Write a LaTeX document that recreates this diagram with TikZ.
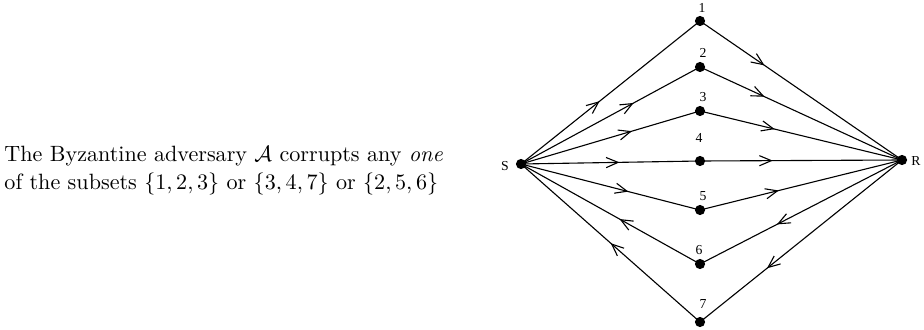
\documentclass[tikz,border=0pt]{standalone}
\usepackage{fontspec}
\newfontfamily\labelfont{Liberation Serif}
\usetikzlibrary{arrows.meta,decorations.markings}
\begin{document}
\begin{tikzpicture}[x=0.452pt,y=-0.452pt,
  dot/.style={circle,fill=black,inner sep=0pt,minimum size=4.6pt},
  tag/.style={font=\labelfont\fontsize{6.2}{7}\selectfont,inner sep=0pt},
  link/.style={line width=0.5pt},
  midarrow/.style={postaction={decorate,decoration={markings,
      mark=at position #1 with {\arrow{Straight Barb[length=5.4pt,width=4.6pt,line width=0.5pt]}}}}}]
  \useasboundingbox (0,0) rectangle (924,330);

  % caption
  \node[anchor=west,align=left,inner sep=0pt,font=\fontsize{10}{12.6}\selectfont] (cap) at (4,171)
    {The Byzantine adversary $\mathcal{A}$ corrupts any \emph{one}\\
     of the subsets $\{1,2,3\}$ or $\{3,4,7\}$ or $\{2,5,6\}$};

  % sender, receiver and the seven relay vertices
  \node[dot] (S) at (521,164) {};
  \node[dot] (R) at (902,160) {};
  \node[dot] (n1) at (700,21) {};
  \node[dot] (n2) at (700,67) {};
  \node[dot] (n3) at (700,111) {};
  \node[dot] (n4) at (700,161) {};
  \node[dot] (n5) at (700,210) {};
  \node[dot] (n6) at (700,264) {};
  \node[dot] (n7) at (700,322) {};

  \node[tag] (lS) at (505,166) {S};
  \node[tag] (lR) at (916,161) {R};
  \node[tag] (l1) at (702,8) {1};
  \node[tag] (l2) at (703,53) {2};
  \node[tag] (l3) at (703,97) {3};
  \node[tag] (l4) at (699,138) {4};
  \node[tag] (l5) at (703,196) {5};
  \node[tag] (l6) at (699,250) {6};
  \node[tag] (l7) at (703,304) {7};

  % sender side
  \draw[link,midarrow=0.44] (S.center) -- (n1.center);
  \draw[link,midarrow=0.63] (S.center) -- (n2.center);
  \draw[link,midarrow=0.62] (S.center) -- (n3.center);
  \draw[link,midarrow=0.55] (S.center) -- (n4.center);
  \draw[link,midarrow=0.60] (S.center) -- (n5.center);
  \draw[link,midarrow=0.45] (n6.center) -- (S.center);
  \draw[link,midarrow=0.50] (n7.center) -- (S.center);

  % receiver side
  \draw[link,midarrow=0.32] (n1.center) -- (R.center);
  \draw[link,midarrow=0.32] (n2.center) -- (R.center);
  \draw[link,midarrow=0.37] (n3.center) -- (R.center);
  \draw[link,midarrow=0.36] (n4.center) -- (R.center);
  \draw[link,midarrow=0.39] (n5.center) -- (R.center);
  \draw[link,midarrow=0.62] (R.center) -- (n6.center);
  \draw[link,midarrow=0.67] (R.center) -- (n7.center);
\end{tikzpicture}
\end{document}
